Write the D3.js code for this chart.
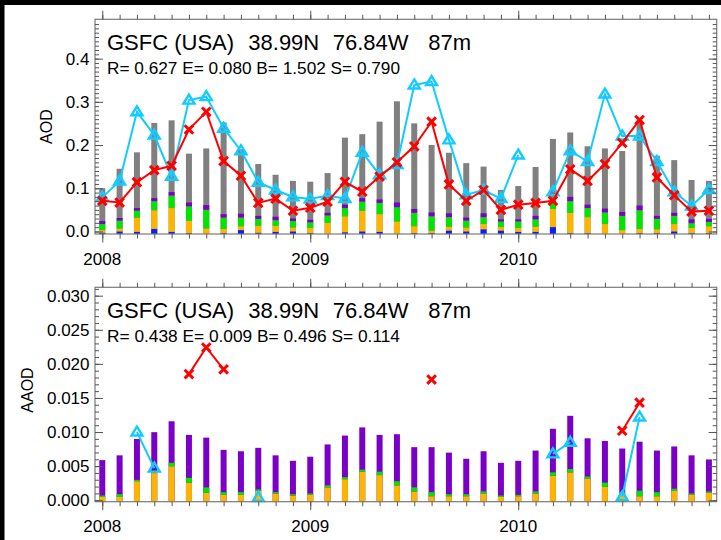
<!DOCTYPE html>
<html><head><meta charset="utf-8">
<script src="https://cdn.jsdelivr.net/npm/d3@7"></script>
<style>
html,body{margin:0;padding:0;background:#fff;}
svg{display:block;}
text{font-family:"Liberation Sans",Arial,Helvetica,sans-serif;fill:#000;}
</style>
</head><body>
<svg id="c" width="721" height="540"></svg>
<script>
// ---------------- DATA ----------------
const months = ["2008-01","2008-02","2008-03","2008-04","2008-05","2008-06","2008-07","2008-08","2008-09","2008-10","2008-11","2008-12",
  "2009-01","2009-02","2009-03","2009-04","2009-05","2009-06","2009-07","2009-08","2009-09","2009-10","2009-11","2009-12",
  "2010-01","2010-02","2010-03","2010-04","2010-05","2010-06","2010-07","2010-08","2010-09","2010-10","2010-11","2010-12"];
const yearLabels = ["2008","2009","2010"];
const yearTickIndex = [0, 12, 24];

const siteTitle = ["GSFC (USA)", "38.99N", "76.84W", "87m"];
const aodStats  = "R= 0.627 E= 0.080 B= 1.502 S= 0.790";
const aaodStats = "R= 0.438 E= 0.009 B= 0.496 S= 0.114";

const aodTicks  = [0.0, 0.1, 0.2, 0.3, 0.4];
const aodTickLabels = ["0.0","0.1","0.2","0.3","0.4"];
const aaodTicks = [0.000, 0.005, 0.010, 0.015, 0.020, 0.025, 0.030];
const aaodTickLabels = ["0.000","0.005","0.010","0.015","0.020","0.025","0.030"];

// top panel: total AOD bars (gray) and components
const aodTotal  = [0.106,0.151,0.189,0.257,0.263,0.186,0.198,0.258,0.196,0.162,0.137,0.123,
                   0.121,0.141,0.223,0.231,0.260,0.307,0.256,0.206,0.188,0.164,0.156,0.102,
                   0.111,0.155,0.220,0.235,0.203,0.198,0.192,0.263,0.181,0.171,0.125,0.123];
const aodBlue   = [0.003,0.006,0.005,0.012,0.005,0.002,0.000,0.002,0.009,0.003,0.005,0.006,
                   0.002,0.000,0.004,0.006,0.005,0.000,0.002,0.002,0.008,0.006,0.011,0.008,
                   0.005,0.005,0.016,0.002,0.002,0.000,0.000,0.002,0.002,0.006,0.002,0.002];
const aodOrange = [0.006,0.007,0.033,0.043,0.055,0.029,0.013,0.010,0.009,0.016,0.014,0.009,
                   0.012,0.026,0.037,0.048,0.041,0.029,0.016,0.006,0.009,0.009,0.012,0.008,
                   0.009,0.012,0.042,0.047,0.037,0.023,0.009,0.010,0.009,0.017,0.012,0.016];
const aodGreen  = [0.014,0.018,0.016,0.021,0.029,0.033,0.043,0.026,0.020,0.016,0.013,0.015,
                   0.013,0.017,0.019,0.021,0.026,0.033,0.031,0.033,0.022,0.016,0.016,0.013,
                   0.015,0.017,0.014,0.027,0.021,0.027,0.033,0.043,0.024,0.019,0.011,0.010];
const aodPurple = [0.007,0.006,0.006,0.007,0.008,0.009,0.011,0.008,0.009,0.007,0.008,0.006,
                   0.006,0.006,0.008,0.008,0.008,0.011,0.009,0.009,0.009,0.007,0.009,0.005,
                   0.005,0.008,0.004,0.010,0.008,0.009,0.009,0.011,0.007,0.007,0.009,0.007];
const aodRed    = [0.071,0.067,0.114,0.142,0.152,0.236,0.277,0.163,0.129,0.066,0.076,0.048,
                   0.055,0.069,0.115,0.092,0.127,0.160,0.197,0.254,0.109,0.071,0.096,0.050,
                   0.062,0.066,0.071,0.144,0.117,0.156,0.205,0.258,0.125,0.084,0.046,0.048];
const aodCyan   = [0.079,0.117,0.277,0.223,0.128,0.304,0.312,0.239,0.187,0.114,0.096,0.080,
                   0.075,0.083,0.076,0.183,0.131,0.155,0.339,0.347,0.212,0.085,0.096,0.076,
                   0.177,null,0.092,0.187,0.162,0.318,0.221,0.221,0.162,0.092,0.059,0.097];

// bottom panel: total AAOD bars (purple) and components
const aaodTotal  = [0.0061,0.0068,0.0092,0.0102,0.0118,0.0098,0.0094,0.0076,0.0074,0.0079,0.0068,0.0060,
                    0.0066,0.0084,0.0097,0.0109,0.0098,0.0099,0.0080,0.0080,0.0072,0.0063,0.0074,0.0057,
                    0.0060,0.0075,0.0107,0.0126,0.0093,0.0089,0.0078,0.0088,0.0075,0.0081,0.0068,0.0062];
const aaodOrange = [0.0007,0.0007,0.0030,0.0042,0.0052,0.0028,0.0013,0.0010,0.0010,0.0016,0.0012,0.0009,
                    0.0010,0.0021,0.0033,0.0044,0.0039,0.0024,0.0015,0.0008,0.0008,0.0008,0.0012,0.0007,
                    0.0008,0.0012,0.0038,0.0043,0.0034,0.0022,0.0012,0.0008,0.0008,0.0016,0.0010,0.0013];
const aaodGreen  = [0.0002,0.0004,0.0002,0.0002,0.0005,0.0007,0.0008,0.0004,0.0004,0.0002,0.0002,0.0002,
                    0.0002,0.0003,0.0003,0.0003,0.0005,0.0006,0.0006,0.0006,0.0003,0.0003,0.0003,0.0002,
                    0.0002,0.0003,0.0005,0.0005,0.0003,0.0006,0.0002,0.0008,0.0006,0.0003,0.0002,0.0002];
const aaodRed    = [null,null,null,null,null,0.0185,0.0224,0.0192,null,null,null,null,
                    null,null,null,null,null,null,null,0.0177,null,null,null,null,
                    null,null,null,null,null,null,0.0102,0.0143,null,null,null,null];
const aaodCyan   = [null,null,0.0100,0.0047,null,null,null,null,null,0.0004,null,null,
                    null,null,null,null,null,null,null,null,null,null,null,null,
                    null,null,0.0068,0.0085,null,null,0.0005,0.0122,null,null,null,null];

// ---------------- STYLE ----------------
const C = {gray:"#808080", blue:"#0a1eff", orange:"#ffb400", green:"#00e400", purple:"#7a00c8",
           red:"#ff0000", cyan:"#12ccff", frame:"#7a7a7a", tick:"#555"};
const FONT = '"Liberation Sans",Arial,Helvetica,sans-serif';

const svg = d3.select("#c");
svg.append("rect").attr("x",0).attr("y",0).attr("width",721).attr("height",540).attr("fill","#fff");
svg.append("rect").attr("x",0).attr("y",0).attr("width",721).attr("height",5).attr("fill","#000");
svg.append("rect").attr("x",0).attr("y",0).attr("width",4.5).attr("height",540).attr("fill","#000");

const L = 95, R = 716.7;
const x = d3.scaleLinear().domain([-0.42, 35.45]).range([L, R]);
const idx = months.map((m,i)=>i);

function styleAxis(g){
  g.select(".domain").remove();
  g.selectAll("line").attr("stroke", C.tick).attr("stroke-width",1);
  g.attr("font-family", FONT);
}

function panel(cfg){
  const g = svg.append("g");
  const y = d3.scaleLinear().domain(cfg.domain).range([cfg.bottom, cfg.top]);
  const h = v => y(0) - y(v);
  const bw = 6;

  // bars (drawn up from the bottom of the plot)
  idx.forEach(i=>{
    const tv = cfg.total[i];
    g.append("rect").attr("x", x(i)-bw/2).attr("y", cfg.bottom - h(tv))
      .attr("width", bw).attr("height", h(tv)).attr("fill", cfg.totalColor);
    let cum = 0;
    cfg.stack.forEach(s=>{
      const v = s.values[i];
      if (!v) return;
      g.append("rect").attr("x", x(i)-bw/2).attr("y", cfg.bottom - h(cum+v))
        .attr("width", bw).attr("height", h(v)).attr("fill", s.color);
      cum += v;
    });
  });

  // lines
  const line = d3.line().defined(d=>d.v!=null).x(d=>x(d.i)).y(d=>y(d.v));
  const cyanPts = cfg.cyan.map((v,i)=>({i,v}));
  const redPts  = cfg.red.map((v,i)=>({i,v}));
  g.append("path").attr("d", line(cyanPts)).attr("fill","none").attr("stroke",C.cyan).attr("stroke-width",2);
  g.selectAll(null).data(cyanPts.filter(d=>d.v!=null)).enter().append("path")
    .attr("transform", d=>`translate(${x(d.i)},${y(d.v)})`)
    .attr("d","M0,-5.5L5.5,3.5L-5.5,3.5Z").attr("fill","none")
    .attr("stroke",C.cyan).attr("stroke-width",2.4).attr("stroke-linejoin","miter");
  g.append("path").attr("d", line(redPts)).attr("fill","none").attr("stroke",C.red).attr("stroke-width",2);
  g.selectAll(null).data(redPts.filter(d=>d.v!=null)).enter().append("path")
    .attr("transform", d=>`translate(${x(d.i)},${y(d.v)})`)
    .attr("d","M-4.3,-4.3L4.3,4.3M-4.3,4.3L4.3,-4.3").attr("fill","none")
    .attr("stroke",C.red).attr("stroke-width",3);

  // frame
  g.append("rect").attr("x",L).attr("y",cfg.top).attr("width",R-L).attr("height",cfg.bottom-cfg.top)
    .attr("fill","none").attr("stroke",C.frame).attr("stroke-width",1.2);

  // x axes: minor month ticks + major year ticks, bottom and top (outward)
  const xt = [
    [d3.axisBottom, cfg.bottom],
    [d3.axisTop, cfg.top]
  ];
  xt.forEach(([ax, yy])=>{
    g.append("g").attr("transform",`translate(0,${yy})`)
      .call(ax(x).tickValues(idx).tickSize(4.5).tickFormat("")).call(styleAxis);
    g.append("g").attr("transform",`translate(0,${yy})`)
      .call(ax(x).tickValues(yearTickIndex).tickSize(8.5).tickFormat("")).call(styleAxis);
  });
  yearTickIndex.forEach((ti,k)=>{
    g.append("text").attr("x", x(ti)).attr("y", cfg.bottom + 30.7)
      .attr("text-anchor","middle").attr("font-size",17).text(yearLabels[k]);
  });

  // y axes: inward ticks left and right
  const minor = cfg.minorTicks;
  g.append("g").attr("transform",`translate(${L},0)`)
    .call(d3.axisRight(y).tickValues(minor).tickSize(4).tickFormat("")).call(styleAxis);
  g.append("g").attr("transform",`translate(${L},0)`)
    .call(d3.axisRight(y).tickValues(cfg.ticks).tickSize(8).tickFormat("")).call(styleAxis);
  g.append("g").attr("transform",`translate(${R},0)`)
    .call(d3.axisLeft(y).tickValues(minor).tickSize(4).tickFormat("")).call(styleAxis);
  g.append("g").attr("transform",`translate(${R},0)`)
    .call(d3.axisLeft(y).tickValues(cfg.ticks).tickSize(8).tickFormat("")).call(styleAxis);
  const lab = g.append("g").attr("transform",`translate(${L},0)`)
    .call(d3.axisLeft(y).tickValues(cfg.ticks).tickSize(0).tickPadding(5.5)
      .tickFormat((d,k)=>cfg.tickLabels[k]));
  lab.select(".domain").remove();
  lab.attr("font-family", FONT).attr("font-size", 17);
  lab.selectAll("text").attr("fill","#000");

  // axis title
  g.append("text").attr("transform",`translate(${cfg.titleX},${(cfg.top+cfg.bottom)/2 + cfg.titleDy}) rotate(-90)`)
    .attr("text-anchor","middle").attr("dy","0.35em").attr("font-size",16).text(cfg.ylabel);

  // site title and statistics
  const tx = [107, 248.3, 332.7, 428.3];
  siteTitle.forEach((s,k)=>{
    g.append("text").attr("x", tx[k]).attr("y", cfg.top + 30.2).attr("font-size",22).text(s);
  });
  g.append("text").attr("x",107).attr("y", cfg.top + 54.8).attr("font-size",17)
    .attr("textLength",293).attr("lengthAdjust","spacingAndGlyphs").text(cfg.stats);
}

panel({
  top: 19.3, bottom: 234, domain: [-0.0058, 0.491],
  total: aodTotal, totalColor: C.gray,
  stack: [{values: aodBlue, color: C.blue}, {values: aodOrange, color: C.orange},
          {values: aodGreen, color: C.green}, {values: aodPurple, color: C.purple}],
  red: aodRed, cyan: aodCyan,
  ticks: aodTicks, tickLabels: aodTickLabels,
  minorTicks: d3.range(0, 49).map(k=>k/100),
  ylabel: "AOD", titleX: 46, titleDy: 0,
  stats: aodStats
});

panel({
  top: 287.3, bottom: 501.7, domain: [-0.00022, 0.03123],
  total: aaodTotal, totalColor: C.purple,
  stack: [{values: aaodOrange, color: C.orange}, {values: aaodGreen, color: C.green}],
  red: aaodRed, cyan: aaodCyan,
  ticks: aaodTicks, tickLabels: aaodTickLabels,
  minorTicks: d3.range(0, 32).map(k=>k/1000),
  ylabel: "AAOD", titleX: 27.5, titleDy: -4.5,
  stats: aaodStats
});
</script>
</body></html>
